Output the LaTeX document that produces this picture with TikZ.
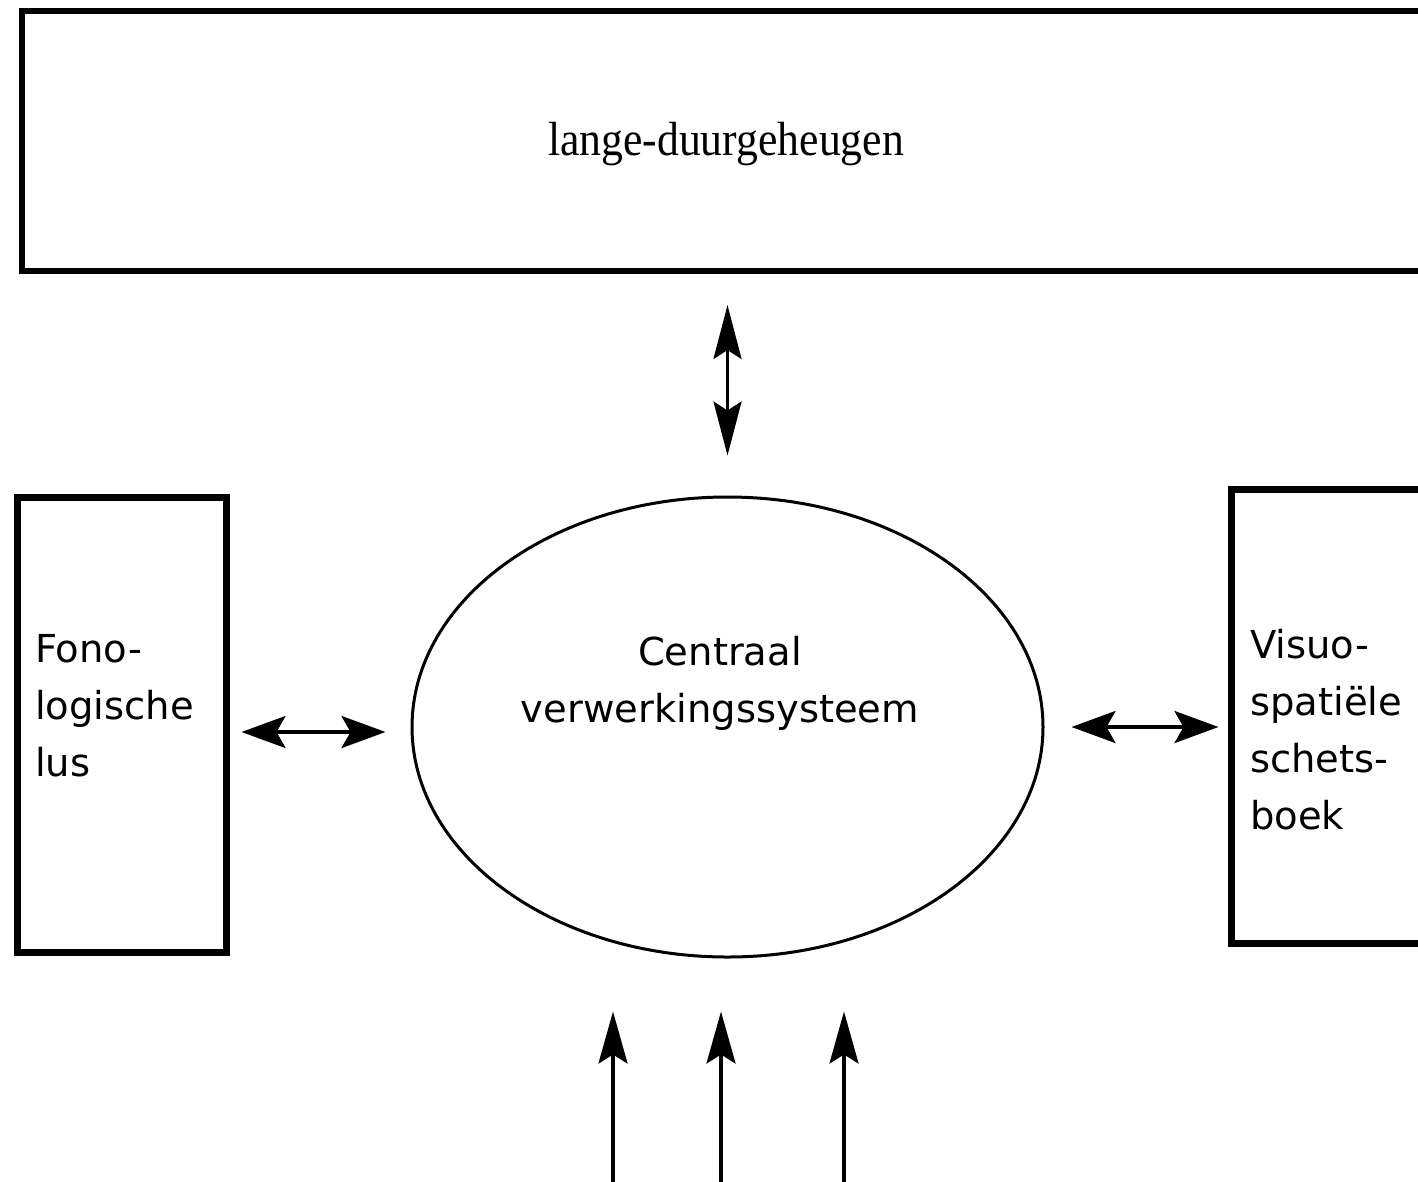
\documentclass[tikz,border=0pt]{standalone}
\usepackage{fontspec}
\setmainfont{DejaVu Sans}
\newfontfamily\ltmfont{Liberation Serif}
\usetikzlibrary{arrows.meta,shapes.geometric}
\begin{document}
\begin{tikzpicture}[x=1pt,y=-1pt,
  boxstyle/.style={draw, rectangle, inner sep=0pt},
  lbl/.style={inner sep=0pt, font=\fontsize{38.5}{57}\selectfont},
  hdbl/.style={line width=3.5pt, {Stealth[length=44pt,width=32pt,inset=9pt]}-{Stealth[length=44pt,width=32pt,inset=9pt]}},
  vdbl/.style={line width=3.5pt, {Stealth[length=54pt,width=28pt,inset=9pt]}-{Stealth[length=54pt,width=28pt,inset=9pt]}},
  inarrow/.style={line width=3.5pt, -{Stealth[length=52pt,width=29pt,inset=9pt]}}
]
\useasboundingbox (0,0) rectangle (1418,1181);
\fill[white] (0,0) rectangle (1418,1181);
\clip (0,0) rectangle (1418,1181);

\node[boxstyle, line width=6pt, minimum width=1418pt, minimum height=260pt] (ltm) at (731,141) {};
\node[inner sep=0pt, anchor=base, font=\ltmfont\fontsize{48}{56}\selectfont] (ltmtext) at (726,155) {\scalebox{0.91}[1]{lange-duurgeheugen}};

\node[boxstyle, line width=7pt, minimum width=208.5pt, minimum height=455pt] (fono) at (121.75,724.5) {};
\node[lbl, align=left, anchor=base west] (fonotext) at (35,776) {Fono-\\logische\\lus};

\node[boxstyle, line width=7pt, minimum width=229pt, minimum height=454pt] (visuo) at (1345.5,716) {};
\node[lbl, align=left, anchor=base west] (visuotext) at (1250,829) {Visuo-\\spatiële\\schets-\\boek};

\node[draw, ellipse, line width=3pt, inner sep=0pt, minimum width=631pt, minimum height=460pt] (cvs) at (727.5,727) {};
\node[lbl, align=center, anchor=base] (cvstext) at (720,722) {Centraal\\verwerkingssysteem};

\draw[vdbl, shorten <=31pt, shorten >=40pt] (ltm.south -| cvs.north) -- (cvs.north);
\draw[hdbl, shorten <=12pt, shorten >=25pt] ([yshift=-7.5pt]fono.east) -- ([yshift=-7.5pt]fono.east -| cvs.west);
\draw[hdbl, shorten <=27pt, shorten >=9pt] (cvs.east) -- (cvs.east -| visuo.west);

\coordinate (in1) at (613,1190);
\coordinate (in2) at (721,1190);
\coordinate (in3) at (844,1190);
\draw[inarrow, shorten >=53pt] (in1) -- (in1 |- cvs.south);
\draw[inarrow, shorten >=53pt] (in2) -- (in2 |- cvs.south);
\draw[inarrow, shorten >=53pt] (in3) -- (in3 |- cvs.south);
\end{tikzpicture}
\end{document}
